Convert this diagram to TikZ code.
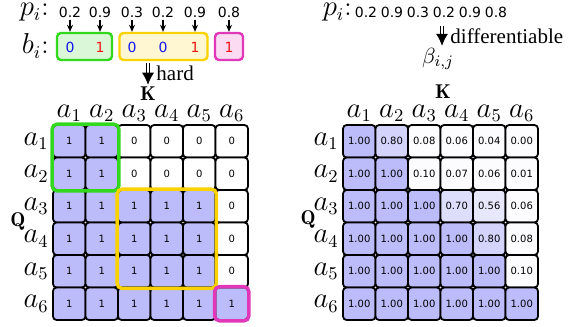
\documentclass[tikz,border=0pt]{standalone}
\usepackage{fontspec}
\newfontfamily\numfont{DejaVu Sans}
\newfontfamily\wordfont{Liberation Serif}
\usetikzlibrary{arrows.meta, positioning, fit}
\definecolor{cellfill}{RGB}{188,188,250}
\definecolor{hgreen}{RGB}{50,215,30}
\definecolor{hyellow}{RGB}{250,210,0}
\definecolor{hpink}{RGB}{225,55,185}
\definecolor{vblue}{RGB}{20,20,240}
\definecolor{vred}{RGB}{240,20,20}

\begin{document}
\begin{tikzpicture}[
    x=0.5pt, y=-0.5pt,
    cell/.style={
        rectangle, draw, line width=0.9pt, rounded corners=1.8pt,
        minimum size=16.25pt, inner sep=0pt,
        font=\numfont\fontsize{5}{6}\selectfont
    },
    lbl/.style={inner sep=1pt, font=\fontsize{13.5}{16}\selectfont},
    axis/.style={inner sep=1pt, font=\fontsize{10}{12}\selectfont},
    prob/.style={inner sep=1pt, font=\numfont\fontsize{7}{8}\selectfont},
    bit/.style={inner sep=1pt, font=\numfont\fontsize{7}{8}\selectfont},
    word/.style={inner sep=1pt, font=\wordfont\fontsize{10.5}{12}\selectfont},
    grp/.style={
        rectangle, draw=#1, fill=#1!18, line width=1.2pt,
        rounded corners=2pt, minimum height=13.5pt, inner sep=0pt
    },
    hl/.style={rectangle, draw=#1, line width=1.7pt, rounded corners=2.5pt, inner sep=0pt},
    parrow/.style={-{Stealth[length=3.5pt,width=3pt]}, line width=0.6pt},
    bigarrow/.style={double, double distance=1.2pt, line width=0.45pt,
        -{Latex[length=6pt,width=6pt]}}
]
\useasboundingbox (0,0) rectangle (576,326);

% ---- left: hard mask ----
\node[lbl, anchor=base east] (pL) at (51,16) {$p_i$:};
\node[lbl, anchor=base east] (bL) at (51,54) {$b_i$:};
\foreach \x/\p [count=\i] in {70/0.2,100/0.9,132/0.3,163/0.2,195/0.9,229/0.8}
    \node[prob] (pL-\i) at (\x,12) {\p};

\node[grp=hgreen, minimum width=27.5pt]  (gL) at (84.5,46.5) {};
\node[grp=hyellow, minimum width=44pt]   (yL) at (163.5,46.5) {};
\node[grp=hpink, minimum width=14pt]     (mL) at (229,46.5) {};
\foreach \x/\b/\col [count=\i] in {70/0/vblue,100/1/vred,132/0/vblue,163/0/vblue,195/1/vred,229/1/vred}
    \node[bit, text=\col] (bL-\i) at (\x,47) {\b};
\foreach \i/\g in {1/gL,2/gL,3/yL,4/yL,5/yL,6/mL}
    \draw[parrow] (pL-\i) -- (pL-\i |- \g.north);

\node[axis] (LK) at (148,94) {$\mathbf{K}$};
\draw[bigarrow, shorten <=1pt] (LK |- yL.south) -- (LK.north)
    node[word, midway, right=3pt] (hardL) {hard};

\foreach \vals [count=\r] in {{1,1,0,0,0,0},{1,1,0,0,0,0},{1,1,1,1,1,0},
                              {1,1,1,1,1,0},{1,1,1,1,1,0},{1,1,1,1,1,1}}{
    \foreach \v [count=\c] in \vals {
        \pgfmathtruncatemacro\shade{100*\v}
        \node[cell, fill=cellfill!\shade] (L-\r-\c)
            at ({53+(\c-0.5)*32.5},{125+(\r-0.5)*32.5}) {\v};
    }
}
\foreach \i in {1,...,6}{
    \node[lbl, above=0pt of L-1-\i] (LC-\i) {$a_\i$};
    \node[lbl, left=0.5pt of L-\i-1] (LR-\i) {$a_\i$};
}
\node[axis] (LQ) at (18,221) {$\mathbf{Q}$};

\node[hl=hgreen, fit=(L-1-1)(L-2-2)]  (gSel) {};
\node[hl=hyellow, fit=(L-3-3)(L-5-5)] (ySel) {};
\node[hl=hpink, fit=(L-6-6)]          (mSel) {};

% ---- right: soft mask ----
\node[lbl, anchor=base east] (pR) at (354,16) {$p_i$:};
\foreach \p [count=\i] in {0.2,0.9,0.3,0.2,0.9,0.8}
    \node[prob] (pR-\i) at ({366+26*(\i-1)},12) {\p};

\coordinate (dTop) at (442,26);
\node[inner sep=1pt, font=\fontsize{11}{13}\selectfont] (beta) at (438,59) {$\beta_{i,j}$};
\draw[bigarrow] (dTop) -- (dTop |- beta.north)
    node[word, midway, right=3pt] (diffR) {differentiable};

\node[axis] (RK) at (443,92) {$\mathbf{K}$};

\foreach \vals [count=\r] in {{1.00,0.80,0.08,0.06,0.04,0.00},{1.00,1.00,0.10,0.07,0.06,0.01},
                              {1.00,1.00,1.00,0.70,0.56,0.06},{1.00,1.00,1.00,1.00,0.80,0.08},
                              {1.00,1.00,1.00,1.00,1.00,0.10},{1.00,1.00,1.00,1.00,1.00,1.00}}{
    \foreach \v [count=\c] in \vals {
        \pgfmathtruncatemacro\shade{5+95*\v*\v}
        \node[cell, fill=cellfill!\shade] (R-\r-\c)
            at ({343+(\c-0.5)*32.5},{125+(\r-0.5)*32.5}) {\v};
    }
}
\foreach \i in {1,...,6}{
    \node[lbl, above=0pt of R-1-\i] (RC-\i) {$a_\i$};
    \node[lbl, left=0.5pt of R-\i-1] (RR-\i) {$a_\i$};
}
\node[axis] (RQ) at (308,219) {$\mathbf{Q}$};
\end{tikzpicture}
\end{document}
